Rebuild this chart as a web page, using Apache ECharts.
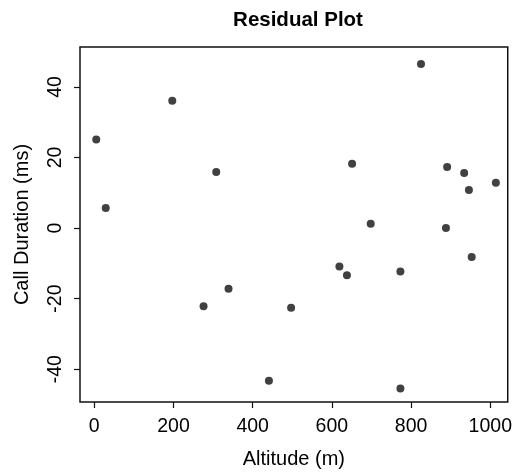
<!DOCTYPE html>
<html>
<head>
<meta charset="utf-8">
<script src="https://cdn.jsdelivr.net/npm/echarts@6/dist/echarts.min.js"></script>
<style>html,body{margin:0;padding:0;background:#fff;}#c{width:515px;height:474px;}</style>
</head>
<body>
<div id="c"></div>
<script>
// Data
var altitude = [5, 29, 197, 308, 276, 339, 441, 497, 651, 619, 638, 698, 825, 773, 773, 891, 934, 946, 888, 953, 1014];
var residual = [25.1, 5.7, 36.1, 15.9, -22.2, -17.2, -43.3, -22.6, 18.2, -10.9, -13.4, 1.2, 46.5, -12.3, -45.5, 17.3, 15.6, 10.8, 0.0, -8.2, 12.8];
var xTicks = [0, 200, 400, 600, 800, 1000];
var yTicks = [-40, -20, 0, 20, 40];
var titleText = 'Residual Plot';
var xName = 'Altitude (m)';
var yName = 'Call Duration (ms)';

var points = altitude.map(function (x, i) { return [x, residual[i]]; });
var font = 'Liberation Sans, Arial, sans-serif';
var chart = echarts.init(document.getElementById('c'), null, {renderer: 'canvas'});
chart.setOption({
  animation: false,
  backgroundColor: '#fff',
  title: {
    text: titleText,
    left: 293, top: 5, textAlign: 'center',
    textStyle: {fontFamily: font, fontSize: 20.5, fontWeight: 'bold', color: '#000'}
  },
  grid: {
    left: 80, top: 47, width: 432, height: 360,
    show: true, borderColor: '#111', borderWidth: 1.5, backgroundColor: '#fff'
  },
  xAxis: {
    type: 'value', min: -36, max: 1044,
    splitLine: {show: false},
    axisLine: {show: false, onZero: false},
    axisTick: {show: true, length: 6, customValues: xTicks, lineStyle: {color: '#111', width: 1.2}},
    axisLabel: {customValues: xTicks, margin: 15, fontFamily: font, fontSize: 19.5, color: '#000',
      formatter: function (v) { return String(v); }},
    name: xName, nameLocation: 'middle', nameGap: 47,
    nameTextStyle: {fontFamily: font, fontSize: 20, color: '#000'}
  },
  yAxis: {
    type: 'value', min: -49.3, max: 51.3,
    splitLine: {show: false},
    axisLine: {show: false, onZero: false},
    axisTick: {show: true, length: 6, customValues: yTicks, lineStyle: {color: '#111', width: 1.2}},
    axisLabel: {customValues: yTicks, rotate: 90, margin: 14, fontFamily: font, fontSize: 19.5, color: '#000',
      formatter: function (v) { return String(v); }},
    name: yName, nameLocation: 'middle', nameRotate: 90, nameGap: 48,
    nameTextStyle: {fontFamily: font, fontSize: 20, color: '#000'}
  },
  series: [{
    type: 'scatter',
    data: points,
    symbol: 'circle',
    symbolSize: 8,
    itemStyle: {color: '#111'}
  }]
});
</script>
</body>
</html>
